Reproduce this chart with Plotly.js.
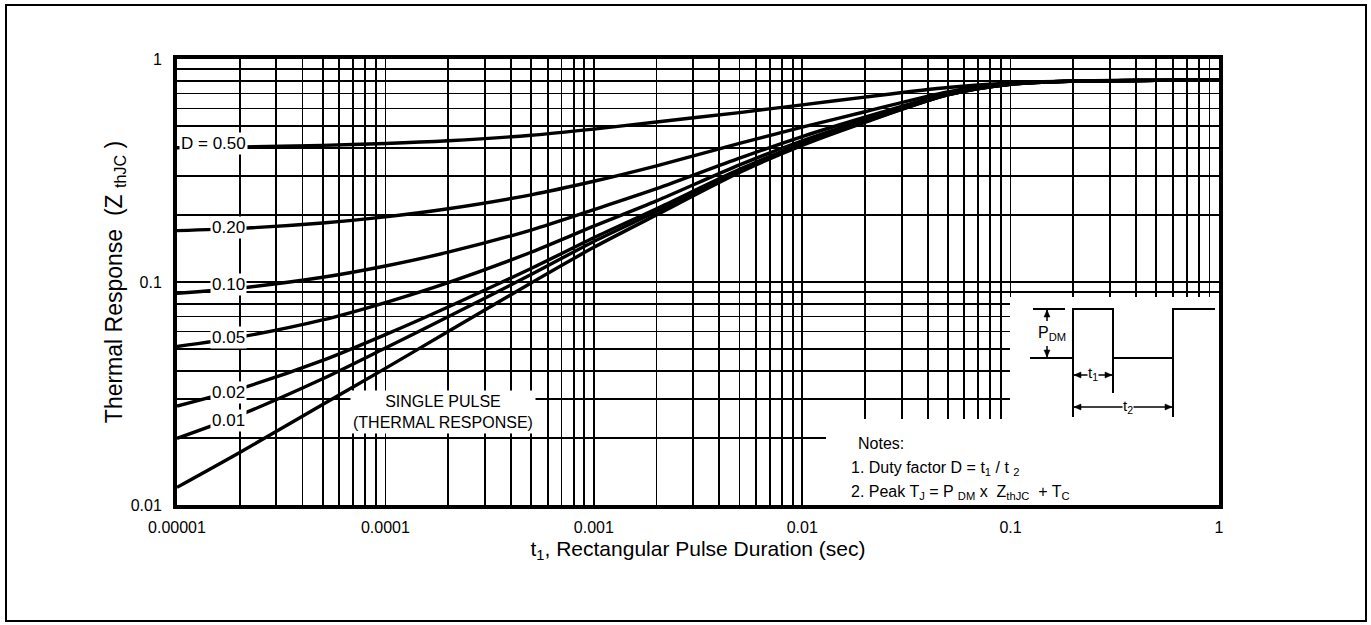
<!DOCTYPE html>
<html>
<head>
<meta charset="utf-8">
<script src="https://cdn.plot.ly/plotly-3.0.1.min.js"></script>
<style>
  html, body { margin: 0; padding: 0; background: #fff; }
  #chart { width: 1371px; height: 625px; }
</style>
</head>
<body>
<div id="chart"></div>
<script>
// ---------- DATA ----------
const pulseDuration = [0.00001, 0.00002, 0.00005, 0.0001, 0.0002, 0.0005, 0.001, 0.002, 0.005, 0.01, 0.02, 0.05, 0.1, 0.2, 0.5, 1];
const zD050 = [0.400, 0.403, 0.410, 0.418, 0.430, 0.455, 0.485, 0.522, 0.575, 0.623, 0.675, 0.745, 0.780, 0.797, 0.803, 0.805];
const zD020 = [0.170, 0.174, 0.184, 0.196, 0.213, 0.246, 0.283, 0.332, 0.418, 0.495, 0.580, 0.712, 0.776, 0.796, 0.802, 0.805];
const zD010 = [0.089, 0.094, 0.105, 0.118, 0.136, 0.171, 0.211, 0.262, 0.359, 0.449, 0.548, 0.700, 0.773, 0.796, 0.802, 0.805];
const zD005 = [0.0514, 0.0566, 0.0676, 0.0809, 0.0994, 0.136, 0.178, 0.231, 0.335, 0.430, 0.534, 0.696, 0.772, 0.795, 0.802, 0.805];
const zD002 = [0.0278, 0.0332, 0.0445, 0.0581, 0.0773, 0.115, 0.158, 0.213, 0.320, 0.418, 0.526, 0.692, 0.771, 0.795, 0.802, 0.805];
const zD001 = [0.0199, 0.0253, 0.0368, 0.0506, 0.0699, 0.108, 0.152, 0.207, 0.315, 0.414, 0.523, 0.691, 0.770, 0.795, 0.802, 0.805];
const zSingle = [0.0120, 0.0172, 0.0282, 0.0410, 0.0600, 0.0990, 0.143, 0.200, 0.310, 0.410, 0.520, 0.690, 0.770, 0.795, 0.802, 0.805];

const xMajorTicks = [0.00001, 0.0001, 0.001, 0.01, 0.1, 1];
const xMajorLabels = ['0.00001', '0.0001', '0.001', '0.01', '0.1', '1'];
const yMajorTicks = [0.01, 0.1, 1];
const yMajorLabels = ['0.01', '0.1', '1'];
const mantissas = [2, 3, 4, 5, 6, 7, 8, 9];

const dutyLabels = ['D = 0.50', '0.20', '0.10', '0.05', '0.02', '0.01'];

// ---------- minor grid positions ----------
function minorVals(majors) {
  const vals = [];
  majors.slice(0, -1).forEach(d => mantissas.forEach(m => vals.push(+(d * m).toPrecision(6))));
  return vals;
}
const xMinor = minorVals(xMajorTicks);
const yMinor = minorVals(yMajorTicks);

// ---------- layout geometry (pixels) ----------
const W = 1371, H = 625;
const L = 177, R = 1219, T = 59, B = 505;
const PX = p => (p - L) / (R - L);
const PY = p => (B - p) / (B - T);

const FONT = 'Liberation Sans, Arial, Helvetica, sans-serif';
const lineStyle = {color: '#000', width: 3.4, shape: 'spline', smoothing: 0.8};

const series = [zD050, zD020, zD010, zD005, zD002, zD001, zSingle];
const traces = series.map(s => ({
  x: pulseDuration, y: s, type: 'scatter', mode: 'lines',
  line: lineStyle, hoverinfo: 'skip', showlegend: false
}));

// ---------- decorations ----------
const shapes = [];
// white areas inside plot (inset & notes) - cover grid
shapes.push({type: 'rect', xref: 'paper', yref: 'paper',
  x0: PX(1010), x1: 1, y0: 0, y1: PY(297),
  line: {width: 0}, fillcolor: '#fff', layer: 'above'});
shapes.push({type: 'rect', xref: 'paper', yref: 'paper',
  x0: PX(826), x1: 1, y0: 0, y1: PY(419),
  line: {width: 0}, fillcolor: '#fff', layer: 'above'});
// outer frame
shapes.push({type: 'rect', xref: 'paper', yref: 'paper',
  x0: PX(6), x1: PX(1366), y0: PY(621), y1: PY(5),
  line: {color: '#000', width: 2}, fillcolor: 'rgba(0,0,0,0)', layer: 'above'});

function seg(x0, y0, x1, y1, w) {
  shapes.push({type: 'line', xref: 'paper', yref: 'paper',
    x0: PX(x0), y0: PY(y0), x1: PX(x1), y1: PY(y1),
    line: {color: '#000', width: w || 2}, layer: 'above'});
}
function pathStr(pts) {
  return pts.map((p, i) => (i ? 'L' : 'M') + PX(p[0]).toFixed(5) + ',' + PY(p[1]).toFixed(5)).join(' ');
}
function tri(x, y, dir) {
  const a = 7, b = 3;
  let pts;
  if (dir === 'left') pts = [[x, y], [x + a, y - b], [x + a, y + b]];
  if (dir === 'right') pts = [[x, y], [x - a, y - b], [x - a, y + b]];
  if (dir === 'up') pts = [[x, y], [x - b, y + a], [x + b, y + a]];
  if (dir === 'down') pts = [[x, y], [x - b, y - a], [x + b, y - a]];
  shapes.push({type: 'path', xref: 'paper', yref: 'paper', path: pathStr(pts) + ' Z',
    fillcolor: '#000', line: {color: '#000', width: 0.5}, layer: 'above'});
}
// pulse waveform
shapes.push({type: 'path', xref: 'paper', yref: 'paper',
  path: pathStr([[1030, 358], [1073, 358], [1073, 309], [1113, 309], [1113, 358], [1173, 358], [1173, 309], [1215, 309]]),
  line: {color: '#000', width: 2}, fillcolor: 'rgba(0,0,0,0)', layer: 'above'});
// extension lines
seg(1073, 358, 1073, 417);
seg(1113, 358, 1113, 393);
seg(1173, 358, 1173, 417);
// t1 dimension
seg(1074, 375, 1113, 375, 1.5); tri(1074, 375, 'left'); tri(1112, 375, 'right');
// t2 dimension
seg(1074, 407, 1172, 407, 1.5); tri(1074, 407, 'left'); tri(1172, 407, 'right');
// PDM dimension
seg(1033, 309, 1065, 309);
seg(1047, 310, 1047, 321, 1.5); tri(1047, 310, 'up');
seg(1047, 346, 1047, 357, 1.5); tri(1047, 357, 'down');

// ---------- annotations ----------
const annotations = [];
function ann(text, x, y, opts) {
  annotations.push(Object.assign({
    text: text, xref: 'paper', yref: 'paper', x: PX(x), y: PY(y),
    showarrow: false, xanchor: 'center', yanchor: 'middle',
    font: {family: FONT, size: 17, color: '#000'}
  }, opts || {}));
}
const labelY = [143, 227, 284, 338, 392, 420];
dutyLabels.forEach((t, i) => {
  if (i === 0) ann(t, 179, labelY[i], {xanchor: 'left', bgcolor: '#fff', borderpad: 1});
  else ann(t, 228, labelY[i], {bgcolor: '#fff', borderpad: 1});
});
ann('SINGLE PULSE<br>(THERMAL RESPONSE)', 443, 412, {bgcolor: '#fff', borderpad: 2, font: {family: FONT, size: 16, color: '#000'}});
ann('Notes:', 856, 443, {xanchor: 'left', font: {family: FONT, size: 16, color: '#000'}});
ann('1. Duty factor D = t<sub>1</sub> / t <sub>2</sub>', 849, 468, {xanchor: 'left', font: {family: FONT, size: 16, color: '#000'}});
ann('2. Peak T<sub>J</sub> = P <sub>DM</sub> x  Z<sub>thJC</sub>  + T<sub>C</sub>', 849, 492, {xanchor: 'left', font: {family: FONT, size: 16, color: '#000'}});
ann('P<sub>DM</sub>', 1052, 333, {font: {family: FONT, size: 16, color: '#000'}});
ann('t<sub>1</sub>', 1093, 374, {bgcolor: '#fff', borderpad: 0, font: {family: FONT, size: 15, color: '#000'}});
ann('t<sub>2</sub>', 1128, 406, {bgcolor: '#fff', borderpad: 0, font: {family: FONT, size: 15, color: '#000'}});

const axisCommon = {
  type: 'log', showgrid: true, gridcolor: '#000', gridwidth: 1.8,
  showline: true, linecolor: '#000', linewidth: 4, mirror: true,
  ticks: '', zeroline: false, tickmode: 'array',
  tickfont: {family: FONT, size: 16, color: '#000'}
};

const layout = {
  width: W, height: H,
  margin: {l: L, r: W - R, t: T, b: H - B, pad: 0},
  paper_bgcolor: '#fff', plot_bgcolor: '#fff',
  showlegend: false,
  xaxis: Object.assign({}, axisCommon, {
    range: [-5, 0], tickvals: xMajorTicks, ticktext: xMajorLabels, ticklabelstandoff: 5,
    minor: {tickmode: 'array', tickvals: xMinor, showgrid: true, gridcolor: '#000', gridwidth: 1.9, ticks: ''},
    title: {text: 't<sub>1</sub>, Rectangular Pulse Duration (sec)', font: {family: FONT, size: 21, color: '#000'}, standoff: 7}
  }),
  yaxis: Object.assign({}, axisCommon, {
    range: [-2, 0], tickvals: yMajorTicks, ticktext: yMajorLabels, ticklabelstandoff: 8,
    minor: {tickmode: 'array', tickvals: yMinor, showgrid: true, gridcolor: '#000', gridwidth: 1.9, ticks: ''},
    title: {text: 'Thermal Response  (Z <sub>thJC</sub> )', font: {family: FONT, size: 23, color: '#000'}, standoff: 3}
  }),
  shapes: shapes,
  annotations: annotations
};

Plotly.newPlot('chart', traces, layout, {staticPlot: true, displayModeBar: false});
</script>
</body>
</html>
